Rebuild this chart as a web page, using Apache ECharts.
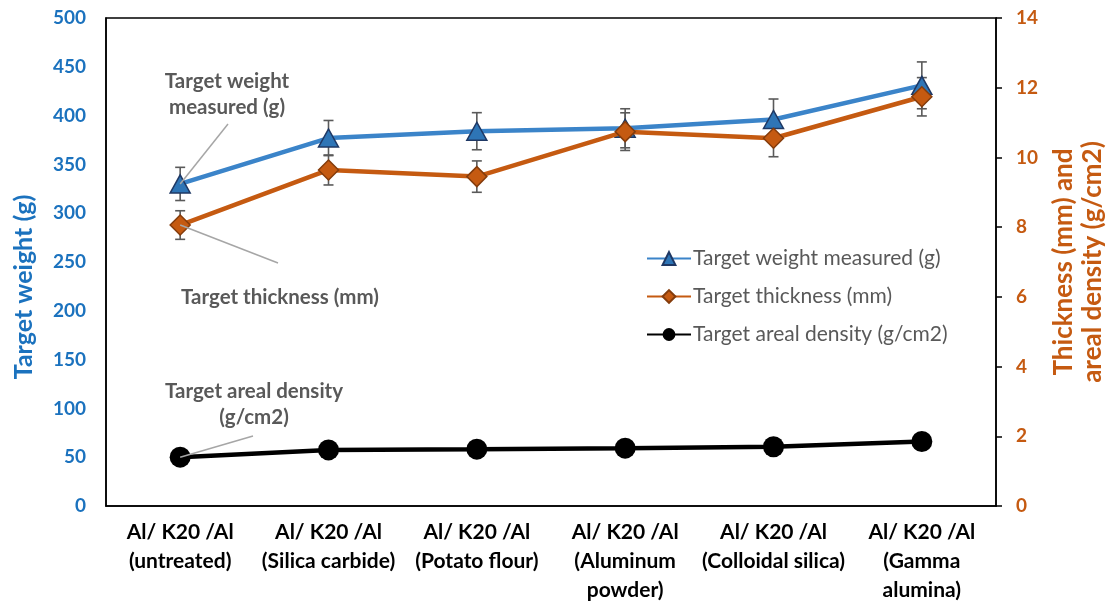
<!DOCTYPE html>
<html>
<head>
<meta charset="utf-8">
<script src="https://cdn.jsdelivr.net/npm/echarts@6/dist/echarts.min.js"></script>
<style>
  html, body { margin: 0; padding: 0; background: #fff; }
  #chart { width: 1109px; height: 601px; }
</style>
</head>
<body>
<div id="chart"></div>
<script>
// Target configurations (x axis)
const categories = [
  'Al/ K20 /Al\n(untreated)',
  'Al/ K20 /Al\n(Silica carbide)',
  'Al/ K20 /Al\n(Potato flour)',
  'Al/ K20 /Al\n(Aluminum\npowder)',
  'Al/ K20 /Al\n(Colloidal silica)',
  'Al/ K20 /Al\n(Gamma\nalumina)'
];

// Target weight measured (g) with standard deviation
const weight = [330, 377, 384, 387, 396, 431];
const weightErr = [17, 18, 19, 20, 21, 24];

// Target thickness (mm) with standard deviation
const thickness = [8.06, 9.64, 9.45, 10.74, 10.55, 11.74];
const thicknessErr = [0.41, 0.43, 0.45, 0.54, 0.53, 0.55];

// Target areal density (g/cm2)
const density = [1.40, 1.61, 1.63, 1.66, 1.70, 1.85];

const seriesNames = ['Target weight measured (g)', 'Target thickness (mm)', 'Target areal density (g/cm2)'];

const FONT = 'Lato';
const BLUE_TXT = '#1B72BE';
const ORANGE = '#C55A11';
const GREY_TXT = '#595959';

function errorSeries(vals, errs, yAxisIndex, z) {
  return {
    type: 'custom',
    yAxisIndex: yAxisIndex,
    z: z,
    silent: true,
    data: vals.map((v, i) => [i, v - errs[i], v + errs[i]]),
    encode: { x: 0, y: [1, 2] },
    renderItem: function (params, api) {
      const lo = api.coord([api.value(0), api.value(1)]);
      const hi = api.coord([api.value(0), api.value(2)]);
      const w = 5;
      const style = { stroke: '#5a5a5a', lineWidth: 1.6 };
      return {
        type: 'group',
        children: [
          { type: 'line', shape: { x1: lo[0], y1: lo[1], x2: hi[0], y2: hi[1] }, style: style },
          { type: 'line', shape: { x1: lo[0] - w, y1: lo[1], x2: lo[0] + w, y2: lo[1] }, style: style },
          { type: 'line', shape: { x1: hi[0] - w, y1: hi[1], x2: hi[0] + w, y2: hi[1] }, style: style }
        ]
      };
    }
  };
}

const chart = echarts.init(document.getElementById('chart'));

const option = {
  animation: false,
  backgroundColor: '#fff',
  grid: {
    left: 106, right: 113, top: 18, bottom: 95,
    outerBoundsMode: 'none',
    show: true, borderColor: '#000', borderWidth: 1.5
  },
  legend: {
    data: seriesNames,
    orient: 'vertical',
    left: 641,
    top: 243,
    itemWidth: 44,
    itemHeight: 16,
    itemGap: 17,
    textStyle: { fontFamily: FONT, fontSize: 21, color: GREY_TXT, padding: [0, 0, 0, -3] }
  },
  xAxis: {
    type: 'category',
    data: categories,
    boundaryGap: true,
    axisLine: { lineStyle: { color: '#000', width: 1.5 } },
    axisTick: { show: false },
    axisLabel: {
      interval: 0,
      margin: 12,
      fontFamily: FONT, fontSize: 21, fontWeight: 'bold', color: '#000',
      lineHeight: 29
    }
  },
  yAxis: [
    {
      type: 'value',
      min: 0, max: 500, interval: 50,
      name: 'Target weight (g)',
      nameLocation: 'middle',
      nameGap: 70,
      nameRotate: 90,
      nameTextStyle: { fontFamily: FONT, fontSize: 25, fontWeight: 'bold', color: BLUE_TXT, padding: [0, 50, 0, 0] },
      axisLine: { show: true, lineStyle: { color: '#000', width: 1.5 } },
      axisTick: { show: false },
      splitLine: { show: false },
      axisLabel: { margin: 20, fontFamily: FONT, fontSize: 19, fontWeight: 'bold', color: BLUE_TXT }
    },
    {
      type: 'value',
      min: 0, max: 14, interval: 2,
      position: 'right',
      name: 'Thickness (mm) and\nareal density (g/cm2)',
      nameLocation: 'middle',
      nameGap: 50,
      nameRotate: 90,
      nameTextStyle: { fontFamily: FONT, fontSize: 26, fontWeight: 'bold', color: ORANGE, lineHeight: 29 },
      axisLine: { show: true, lineStyle: { color: '#000', width: 1.5 } },
      axisTick: { show: true, inside: false, length: 6, lineStyle: { color: '#000', width: 1.5 } },
      splitLine: { show: false },
      axisLabel: { margin: 20, fontFamily: FONT, fontSize: 19, fontWeight: 'bold', color: ORANGE }
    }
  ],
  series: [
    errorSeries(weight, weightErr, 0, 1),
    errorSeries(thickness, thicknessErr, 1, 1),
    {
      name: seriesNames[0],
      type: 'line',
      yAxisIndex: 0,
      data: weight,
      z: 3,
      symbol: 'triangle',
      symbolSize: [20, 18],
      lineStyle: { color: '#3B84C9', width: 4.5 },
      itemStyle: { color: '#2E75B6', borderColor: '#1F3864', borderWidth: 1.5 }
    },
    {
      name: seriesNames[1],
      type: 'line',
      yAxisIndex: 1,
      data: thickness,
      z: 4,
      symbol: 'diamond',
      symbolSize: [20, 20],
      lineStyle: { color: '#C55A11', width: 4.5 },
      itemStyle: { color: '#C55A11', borderColor: '#843C0C', borderWidth: 1.5 }
    },
    {
      name: seriesNames[2],
      type: 'line',
      yAxisIndex: 1,
      data: density,
      z: 5,
      symbol: 'circle',
      symbolSize: 21,
      lineStyle: { color: '#000', width: 4.5 },
      itemStyle: { color: '#000' }
    }
  ]
};

chart.setOption(option);

// Callout labels with leader lines pointing at the first point of each series
const p0 = chart.convertToPixel({ seriesIndex: 2 }, [0, weight[0]]);
const p1 = chart.convertToPixel({ seriesIndex: 3 }, [0, thickness[0]]);
const p2 = chart.convertToPixel({ seriesIndex: 4 }, [0, density[0]]);

const calloutText = { fontFamily: FONT, fontSize: 20.5, fontWeight: 'bold', fill: GREY_TXT, align: 'center', verticalAlign: 'middle', lineHeight: 26 };
const leader = { stroke: '#A6A6A6', lineWidth: 1.5 };

chart.setOption({
  graphic: [
    { type: 'line', z: 10, shape: { x1: 228, y1: 124, x2: p0[0], y2: p0[1] }, style: leader },
    { type: 'text', x: 227, y: 94, style: Object.assign({ text: 'Target weight\nmeasured (g)' }, calloutText) },
    { type: 'line', z: 10, shape: { x1: 278, y1: 263, x2: p1[0], y2: p1[1] }, style: leader },
    { type: 'text', x: 280, y: 297, style: Object.assign({ text: 'Target thickness (mm)' }, calloutText) },
    { type: 'line', z: 10, shape: { x1: 253, y1: 436, x2: p2[0], y2: p2[1] }, style: leader },
    { type: 'text', x: 254, y: 404, style: Object.assign({ text: 'Target areal density\n(g/cm2)' }, calloutText) }
  ]
});
</script>
</body>
</html>
